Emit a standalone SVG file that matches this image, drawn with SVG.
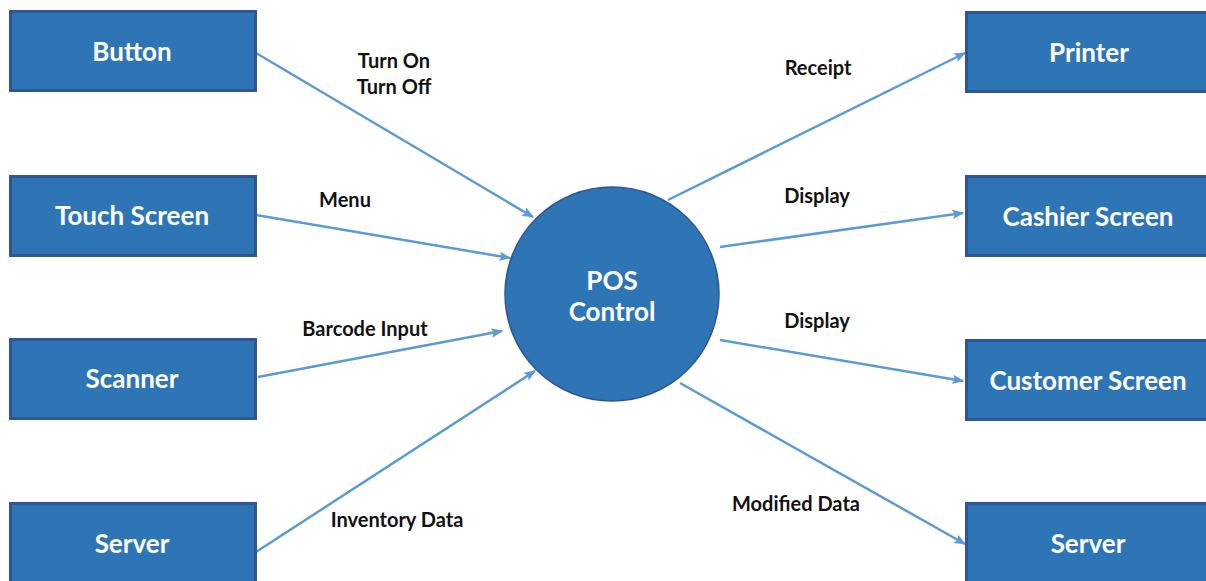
<svg xmlns="http://www.w3.org/2000/svg" width="1206" height="581" viewBox="0 0 1206 581">
<defs>
<style>
.box{fill:#2E75B6;stroke:#2F5597;stroke-width:3}
.nt{font-family:Lato,"Liberation Sans",sans-serif;font-weight:bold;font-size:26px;fill:#fff;text-anchor:middle}
.lt{font-family:Lato,"Liberation Sans",sans-serif;font-weight:bold;font-size:20px;fill:#111;text-anchor:middle}
.cn{stroke:#5B9BD5;stroke-width:2.5;fill:none;marker-end:url(#ah)}
</style>
<marker id="ah" viewBox="0 0 10 8" refX="9" refY="4" markerWidth="4.8" markerHeight="3.8" orient="auto" markerUnits="strokeWidth">
<path d="M0,0 L10,4 L0,8 L2,4 z" fill="#5B9BD5"/>
</marker>
</defs>
<rect width="1206" height="581" fill="#fff"/>
<g id="connectors">
<line class="cn" x1="256" y1="53" x2="533" y2="217"/>
<line class="cn" x1="256" y1="215" x2="510" y2="258"/>
<line class="cn" x1="258" y1="377" x2="502" y2="331"/>
<line class="cn" x1="256" y1="552" x2="535" y2="371"/>
<line class="cn" x1="668" y1="200" x2="965" y2="53"/>
<line class="cn" x1="720" y1="247" x2="963" y2="213"/>
<line class="cn" x1="720" y1="340" x2="963" y2="381"/>
<line class="cn" x1="680" y1="383" x2="965" y2="544"/>
</g>
<g id="labels">
<text class="lt" x="394" y="68">Turn On</text>
<text class="lt" x="394" y="94">Turn Off</text>
<text class="lt" x="345" y="207">Menu</text>
<text class="lt" x="365" y="336">Barcode Input</text>
<text class="lt" x="397" y="527">Inventory Data</text>
<text class="lt" x="818" y="75">Receipt</text>
<text class="lt" x="817" y="203">Display</text>
<text class="lt" x="817" y="328">Display</text>
<text class="lt" x="796" y="511">Modified Data</text>
</g>
<g id="button"><rect class="box" x="10.5" y="11.5" width="245" height="79"/><text class="nt" x="132" y="61">Button</text></g>
<g id="touch-screen"><rect class="box" x="10.5" y="176.5" width="245" height="79"/><text class="nt" x="132" y="225">Touch Screen</text></g>
<g id="scanner"><rect class="box" x="10.5" y="339.5" width="245" height="79"/><text class="nt" x="132" y="388">Scanner</text></g>
<g id="server-in"><rect class="box" x="10.5" y="503.5" width="245" height="85"/><text class="nt" x="132" y="553">Server</text></g>
<g id="pos-control"><circle cx="612" cy="294" r="107" fill="#2E75B6" stroke="#2F5597" stroke-width="1.5"/><text class="nt" x="612" y="290">POS</text><text class="nt" x="612" y="321">Control</text></g>
<g id="printer"><rect class="box" x="966.5" y="12.5" width="245" height="79"/><text class="nt" x="1089" y="62">Printer</text></g>
<g id="cashier-screen"><rect class="box" x="966.5" y="176.5" width="245" height="79"/><text class="nt" x="1088" y="226">Cashier Screen</text></g>
<g id="customer-screen"><rect class="box" x="966.5" y="340.5" width="245" height="79"/><text class="nt" x="1088" y="390">Customer Screen</text></g>
<g id="server-out"><rect class="box" x="966.5" y="503.5" width="245" height="85"/><text class="nt" x="1088" y="553">Server</text></g>
</svg>
